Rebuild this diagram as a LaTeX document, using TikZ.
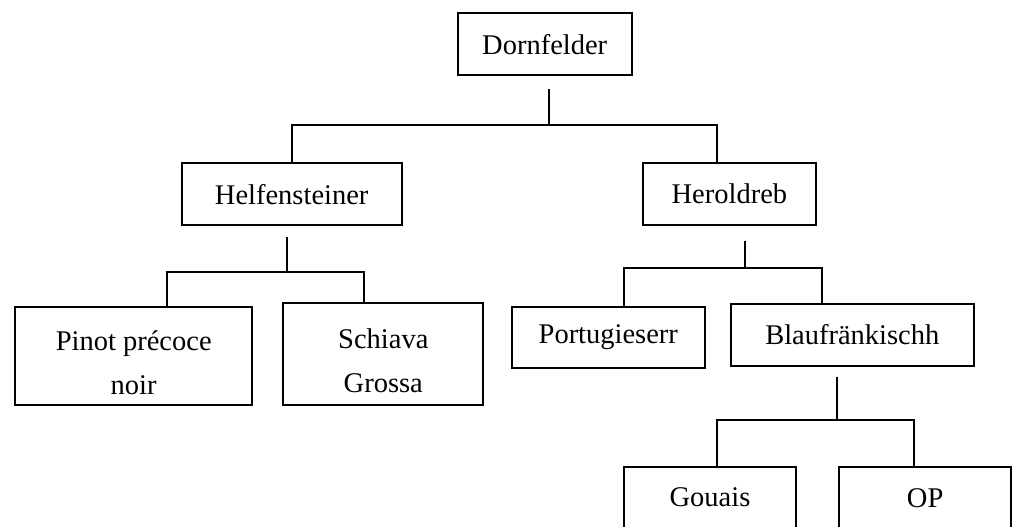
\documentclass[tikz,border=0pt]{standalone}
\usepackage{fontspec}
\setmainfont{Liberation Serif}
\begin{document}
\begin{tikzpicture}[x=1pt,y=-1pt,
  box/.style={draw,line width=2.2pt,inner sep=0pt,minimum height=61.7pt,
    font=\fontsize{28.5}{44}\selectfont,align=center},
  conn/.style={line width=2.2pt}]
\useasboundingbox (0,0) rectangle (1014,527);
\clip (0,0) rectangle (1014,527);
% nodes
\node[box,minimum width=174pt] (dorn) at (544.7,44.2) {Dornfelder};
\node[box,minimum width=220pt] (helf) at (291.7,194.2) {Helfensteiner};
\node[box,minimum width=173.3pt] (herold) at (729.4,194.2) {Heroldreb};
\node[box,minimum width=237.3pt,minimum height=98.3pt] (pinot) at (133.7,355.8) {\rule{0pt}{33pt}Pinot précoce\\noir};
\node[box,minimum width=200pt,minimum height=101.7pt] (schiava) at (383.3,354.2) {\rule{0pt}{32pt}Schiava\\Grossa};
\node[box,minimum width=193.3pt,minimum height=61pt] (portug) at (608.3,337.2) {Portugieserr};
\node[box,minimum width=243.3pt] (blauf) at (852.3,334.8) {Blaufränkischh};
\node[box,minimum width=172pt] (gouais) at (710,497.5) {Gouais};
\node[box,minimum width=171.7pt] (op) at (925.2,497.8) {OP};
% junction coordinates
\coordinate (dT) at (548.7,89);   \coordinate (dB) at (548.7,125);
\coordinate (dL) at (291.7,125);  \coordinate (dR) at (716.7,125);
\coordinate (hT) at (286.7,237);  \coordinate (hB) at (286.7,272);
\coordinate (hL) at (166.7,272);  \coordinate (hR) at (364.3,272);
\coordinate (rT) at (745,240.7);  \coordinate (rB) at (745,268.3);
\coordinate (rL) at (624.3,268.3);\coordinate (rR) at (821.7,268.3);
\coordinate (bT) at (836.7,376.7);\coordinate (bB) at (836.7,420);
\coordinate (bL) at (716.7,420);  \coordinate (bR) at (914,420);
% connectors
\draw[conn] (dT) -- (dB);
\draw[conn] (helf.north -| dL) -- (dL) -- (dR) -- (herold.north -| dR);
\draw[conn] (hT) -- (hB);
\draw[conn] (pinot.north -| hL) -- (hL) -- (hR) -- (schiava.north -| hR);
\draw[conn] (rT) -- (rB);
\draw[conn] (portug.north -| rL) -- (rL) -- (rR) -- (blauf.north -| rR);
\draw[conn] (bT) -- (bB);
\draw[conn] (gouais.north -| bL) -- (bL) -- (bR) -- (op.north -| bR);
\end{tikzpicture}
\end{document}
